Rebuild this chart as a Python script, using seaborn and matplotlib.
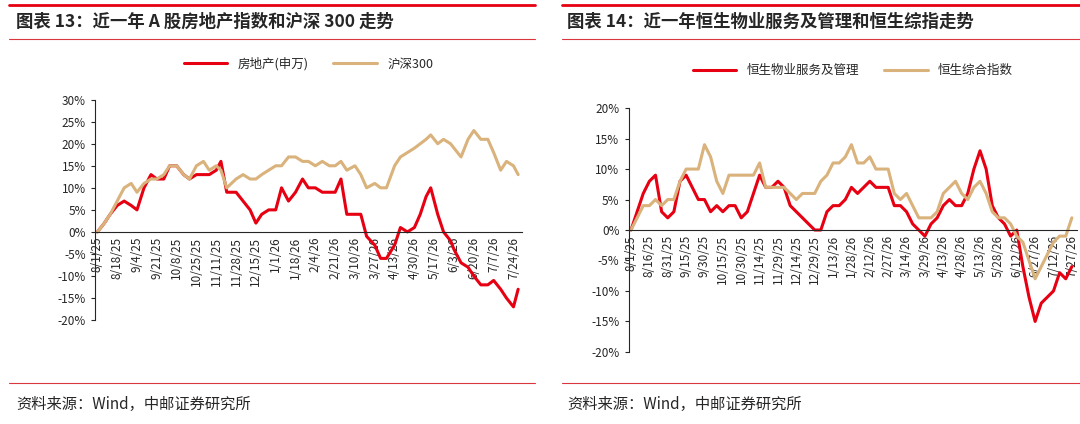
import matplotlib
matplotlib.use("Agg")
import matplotlib.pyplot as plt
import matplotlib.dates as mdates
import matplotlib.ticker as mticker
import numpy as np
import pandas as pd
import seaborn as sns
from matplotlib.lines import Line2D

sns.set_style("white")
plt.rcParams["font.family"] = ["Noto Sans CJK SC", "DejaVu Sans"]
plt.rcParams["axes.unicode_minus"] = False

RED = "#e60012"
TAN = "#d9b27c"
RULE = "#d9363e"

# 左图：A股房地产 vs 沪深300（%）
left_dates = ["2025-08-01", "2025-08-07", "2025-08-12", "2025-08-18", "2025-08-24", "2025-08-30",
              "2025-09-04", "2025-09-10", "2025-09-16", "2025-09-21", "2025-09-27", "2025-10-02",
              "2025-10-08", "2025-10-14", "2025-10-19", "2025-10-25", "2025-10-31", "2025-11-05",
              "2025-11-11", "2025-11-15", "2025-11-20", "2025-11-28", "2025-12-04", "2025-12-10",
              "2025-12-15", "2025-12-20", "2025-12-26", "2026-01-01", "2026-01-06", "2026-01-12",
              "2026-01-18", "2026-01-24", "2026-01-29", "2026-02-04", "2026-02-10", "2026-02-16",
              "2026-02-21", "2026-02-26", "2026-03-03", "2026-03-10", "2026-03-15", "2026-03-20",
              "2026-03-27", "2026-04-01", "2026-04-06", "2026-04-13", "2026-04-18", "2026-04-24",
              "2026-04-30", "2026-05-05", "2026-05-10", "2026-05-14", "2026-05-20", "2026-05-25",
              "2026-05-31", "2026-06-03", "2026-06-09", "2026-06-15", "2026-06-20", "2026-06-26",
              "2026-07-02", "2026-07-07", "2026-07-13", "2026-07-18", "2026-07-24", "2026-07-28"]
realestate = [0, 2, 4, 6, 7, 6, 5, 10, 13, 12, 12, 15, 15, 13, 12, 13, 13, 13, 14, 16, 9, 9, 7, 5,
              2, 4, 5, 5, 10, 7, 9, 12, 10, 10, 9, 9, 9, 12, 4, 4, 4, -1, -3, -6, -6, -3, 1, 0,
              1, 4, 8, 10, 4, 0, -2, -4, -7, -8, -10, -12, -12, -11, -13, -15, -17, -13]
hs300 = [0, 2, 4, 7, 10, 11, 9, 11, 12, 12, 13, 15, 15, 13, 12, 15, 16, 14, 15, 14, 10, 12, 13, 12,
         12, 13, 14, 15, 15, 17, 17, 16, 16, 15, 16, 15, 15, 16, 14, 15, 13, 10, 11, 10, 10, 15, 17, 18,
         19, 20, 21, 22, 20, 21, 20, 19, 17, 21, 23, 21, 21, 18, 14, 16, 15, 13]
left_ticks = pd.date_range("2025-08-01", "2026-07-30", freq="17D")

# 右图：恒生物业服务及管理 vs 恒生综指（%）
right_dates = pd.date_range("2025-08-01", periods=73, freq="5D")
hs_property = [0, 3, 6, 8, 9, 3, 2, 3, 8, 9, 7, 5, 5, 3, 4, 3, 4, 4, 2, 3, 6, 9, 7, 7, 8, 7, 4, 3,
               2, 1, 0, 0, 3, 4, 4, 5, 7, 6, 7, 8, 7, 7, 7, 4, 4, 3, 1, 0, -1, 1, 2, 4, 5, 4, 4, 6,
               10, 13, 10, 4, 2, 1, -1, 0, -6, -11, -15, -12, -11, -10, -7, -8, -6]
hs_comp = [0, 2, 4, 4, 5, 4, 5, 5, 8, 10, 10, 10, 14, 12, 8, 6, 9, 9, 9, 9, 9, 11, 7, 7, 7, 7, 6, 5,
           6, 6, 6, 8, 9, 11, 11, 12, 14, 11, 11, 12, 10, 10, 10, 6, 5, 6, 4, 2, 2, 2, 3, 6, 7, 8,
           6, 5, 7, 8, 6, 3, 2, 2, 1, -1, -2, -5, -8, -6, -4, -2, -1, -1, 2]
right_ticks = pd.date_range("2025-08-01", "2026-07-30", freq="15D")

fig = plt.figure(figsize=(10.8, 4.24), dpi=100)
ax1 = fig.add_axes([0.088, 0.245, 0.395, 0.52])
ax2 = fig.add_axes([0.582, 0.17, 0.415, 0.575])

ldf = pd.DataFrame({"date": pd.to_datetime(left_dates), "房地产(申万)": realestate, "沪深300": hs300})
ldf = ldf.melt("date", var_name="s", value_name="v")
sns.lineplot(data=ldf, x="date", y="v", hue="s", palette=[RED, TAN], linewidth=2.2, ax=ax1)

rdf = pd.DataFrame({"date": right_dates, "恒生物业服务及管理": hs_property, "恒生综合指数": hs_comp})
rdf = rdf.melt("date", var_name="s", value_name="v")
sns.lineplot(data=rdf, x="date", y="v", hue="s", palette=[RED, TAN], linewidth=2.2, ax=ax2)

for ax, ticks, lo, hi in [(ax1, left_ticks, -20, 30), (ax2, right_ticks, -20, 20)]:
    ax.set_ylim(lo, hi)
    ax.set_yticks(np.arange(lo, hi + 1, 5))
    ax.yaxis.set_major_formatter(mticker.FuncFormatter(lambda v, p: f"{v:.0f}%"))
    ax.set_xlim(pd.Timestamp("2025-07-30"), pd.Timestamp("2026-07-31"))
    ax.spines["bottom"].set_position(("data", 0))
    ax.spines[["top", "right"]].set_visible(False)
    ax.set_xticks(ticks)
    ax.xaxis.set_major_formatter(mticker.FuncFormatter(
        lambda v, p: f"{mdates.num2date(v).month}/{mdates.num2date(v).day}/{mdates.num2date(v).year % 100}"))
    ax.xaxis.set_minor_locator(mdates.DayLocator(interval=3))
    ax.tick_params(axis="x", which="both", direction="in", length=4, labelrotation=90, labelsize=8.5)
    ax.tick_params(axis="y", labelsize=8.5, left=True, length=3)
    for lbl in ax.get_xticklabels():
        lbl.set_verticalalignment("top")
    ax.set_xlabel("")
    ax.set_ylabel("")
    ax.legend(loc="lower center", bbox_to_anchor=(0.5, 1.08), ncol=2, frameon=False,
              fontsize=9, title=None, handlelength=3.5)

fig.text(0.015, 0.948, "图表 13：近一年 A 股房地产指数和沪深 300 走势", fontsize=12.5,
         fontweight="bold", va="center")
fig.text(0.525, 0.948, "图表 14：近一年恒生物业服务及管理和恒生综指走势", fontsize=12.5,
         fontweight="bold", va="center")
fig.text(0.015, 0.047, "资料来源：Wind，中邮证券研究所", fontsize=11, va="center")
fig.text(0.525, 0.047, "资料来源：Wind，中邮证券研究所", fontsize=11, va="center")
for x0, x1 in [(0.008, 0.495), (0.52, 1.0)]:
    fig.add_artist(Line2D([x0, x1], [0.988, 0.988], color=RED, lw=2))
    fig.add_artist(Line2D([x0, x1], [0.908, 0.908], color=RULE, lw=0.8))
    fig.add_artist(Line2D([x0, x1], [0.097, 0.097], color=RULE, lw=0.8))

fig.savefig("out.png", dpi=100)
